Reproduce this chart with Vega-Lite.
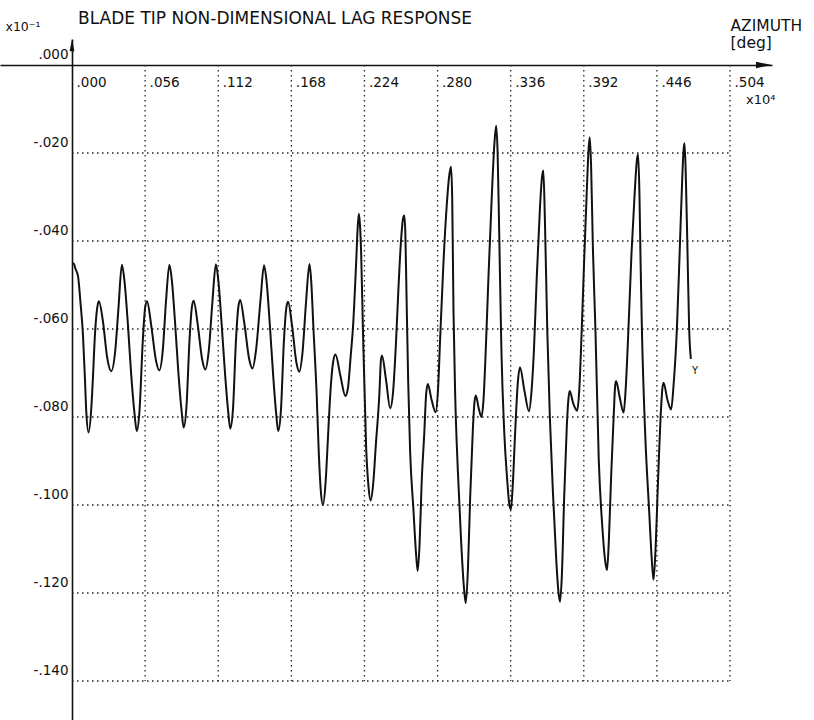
{
  "$schema": "https://vega.github.io/schema/vega-lite/v6.json",
  "width": 772,
  "height": 681,
  "autosize": {"type": "none"},
  "padding": {"left": 0, "top": 39, "right": 42, "bottom": 0},
  "background": "white",
  "title": {
    "text": "BLADE TIP NON-DIMENSIONAL LAG RESPONSE",
    "anchor": "start",
    "frame": "group",
    "dx": 78,
    "offset": -23,
    "baseline": "alphabetic",
    "font": "DejaVu Sans",
    "fontSize": 17,
    "fontWeight": "normal",
    "color": "#111111"
  },
  "datasets": {
    "vgrid": [
      {"x": 0.056}, {"x": 0.112}, {"x": 0.168}, {"x": 0.224}, {"x": 0.28},
      {"x": 0.336}, {"x": 0.392}, {"x": 0.448}, {"x": 0.504}
    ],
    "hgrid": [
      {"y": -0.02}, {"y": -0.04}, {"y": -0.06}, {"y": -0.08},
      {"y": -0.1}, {"y": -0.12}, {"y": -0.14}
    ],
    "curve": [
      {"x": 0.0000, "y": -0.0450}, {"x": 0.0015, "y": -0.0452}, {"x": 0.0025, "y": -0.0462},
      {"x": 0.0046, "y": -0.0480}, {"x": 0.0065, "y": -0.0540}, {"x": 0.0084, "y": -0.0613},
      {"x": 0.0100, "y": -0.0720}, {"x": 0.0109, "y": -0.0786}, {"x": 0.0127, "y": -0.0835},
      {"x": 0.0148, "y": -0.0779}, {"x": 0.0162, "y": -0.0700}, {"x": 0.0173, "y": -0.0628},
      {"x": 0.0193, "y": -0.0552}, {"x": 0.0206, "y": -0.0537}, {"x": 0.0237, "y": -0.0583},
      {"x": 0.0270, "y": -0.0666}, {"x": 0.0300, "y": -0.0696}, {"x": 0.0331, "y": -0.0650},
      {"x": 0.0356, "y": -0.0552}, {"x": 0.0382, "y": -0.0454},
      {"x": 0.0402, "y": -0.0491}, {"x": 0.0428, "y": -0.0589}, {"x": 0.0453, "y": -0.0702},
      {"x": 0.0479, "y": -0.0793}, {"x": 0.0496, "y": -0.0832}, {"x": 0.0517, "y": -0.0786},
      {"x": 0.0542, "y": -0.0628}, {"x": 0.0560, "y": -0.0552}, {"x": 0.0575, "y": -0.0537},
      {"x": 0.0606, "y": -0.0590}, {"x": 0.0644, "y": -0.0673}, {"x": 0.0669, "y": -0.0694},
      {"x": 0.0695, "y": -0.0650}, {"x": 0.0720, "y": -0.0537}, {"x": 0.0746, "y": -0.0454},
      {"x": 0.0765, "y": -0.0490}, {"x": 0.0790, "y": -0.0588}, {"x": 0.0815, "y": -0.0700},
      {"x": 0.0840, "y": -0.0788}, {"x": 0.0855, "y": -0.0824}, {"x": 0.0876, "y": -0.0780},
      {"x": 0.0900, "y": -0.0626}, {"x": 0.0918, "y": -0.0551}, {"x": 0.0932, "y": -0.0536},
      {"x": 0.0962, "y": -0.0588}, {"x": 0.0998, "y": -0.0671}, {"x": 0.1021, "y": -0.0692},
      {"x": 0.1048, "y": -0.0648}, {"x": 0.1076, "y": -0.0536}, {"x": 0.1102, "y": -0.0453},
      {"x": 0.1121, "y": -0.0490}, {"x": 0.1146, "y": -0.0588}, {"x": 0.1172, "y": -0.0701},
      {"x": 0.1197, "y": -0.0790}, {"x": 0.1212, "y": -0.0826}, {"x": 0.1233, "y": -0.0782},
      {"x": 0.1256, "y": -0.0625}, {"x": 0.1274, "y": -0.0550}, {"x": 0.1288, "y": -0.0534},
      {"x": 0.1320, "y": -0.0587}, {"x": 0.1358, "y": -0.0670}, {"x": 0.1382, "y": -0.0690},
      {"x": 0.1410, "y": -0.0647}, {"x": 0.1443, "y": -0.0537}, {"x": 0.1471, "y": -0.0455},
      {"x": 0.1490, "y": -0.0491}, {"x": 0.1515, "y": -0.0589}, {"x": 0.1540, "y": -0.0702},
      {"x": 0.1564, "y": -0.0793}, {"x": 0.1579, "y": -0.0832}, {"x": 0.1600, "y": -0.0786},
      {"x": 0.1623, "y": -0.0628}, {"x": 0.1641, "y": -0.0553}, {"x": 0.1655, "y": -0.0538},
      {"x": 0.1685, "y": -0.0591}, {"x": 0.1718, "y": -0.0675}, {"x": 0.1741, "y": -0.0697},
      {"x": 0.1766, "y": -0.0652}, {"x": 0.1793, "y": -0.0537}, {"x": 0.1819, "y": -0.0452},
      {"x": 0.1832, "y": -0.0490}, {"x": 0.1849, "y": -0.0597}, {"x": 0.1874, "y": -0.0749},
      {"x": 0.1890, "y": -0.0880}, {"x": 0.1905, "y": -0.0965}, {"x": 0.1922, "y": -0.1000},
      {"x": 0.1942, "y": -0.0950}, {"x": 0.1960, "y": -0.0850}, {"x": 0.1975, "y": -0.0764},
      {"x": 0.2000, "y": -0.0675}, {"x": 0.2018, "y": -0.0658}, {"x": 0.2055, "y": -0.0705},
      {"x": 0.2094, "y": -0.0752}, {"x": 0.2114, "y": -0.0733}, {"x": 0.2135, "y": -0.0660},
      {"x": 0.2152, "y": -0.0597}, {"x": 0.2177, "y": -0.0445}, {"x": 0.2188, "y": -0.0370},
      {"x": 0.2197, "y": -0.0338},
      {"x": 0.2207, "y": -0.0370}, {"x": 0.2215, "y": -0.0430}, {"x": 0.2228, "y": -0.0597},
      {"x": 0.2253, "y": -0.0870}, {"x": 0.2270, "y": -0.0955}, {"x": 0.2287, "y": -0.0990},
      {"x": 0.2306, "y": -0.0955}, {"x": 0.2328, "y": -0.0860}, {"x": 0.2354, "y": -0.0749},
      {"x": 0.2366, "y": -0.0672}, {"x": 0.2374, "y": -0.0660}, {"x": 0.2405, "y": -0.0715},
      {"x": 0.2437, "y": -0.0780}, {"x": 0.2460, "y": -0.0740}, {"x": 0.2480, "y": -0.0640},
      {"x": 0.2500, "y": -0.0510}, {"x": 0.2520, "y": -0.0400}, {"x": 0.2535, "y": -0.0350},
      {"x": 0.2545, "y": -0.0342},
      {"x": 0.2553, "y": -0.0380}, {"x": 0.2562, "y": -0.0520}, {"x": 0.2575, "y": -0.0720},
      {"x": 0.2590, "y": -0.0880}, {"x": 0.2615, "y": -0.1010}, {"x": 0.2635, "y": -0.1110},
      {"x": 0.2648, "y": -0.1150}, {"x": 0.2662, "y": -0.1090}, {"x": 0.2678, "y": -0.0950},
      {"x": 0.2698, "y": -0.0838}, {"x": 0.2712, "y": -0.0750}, {"x": 0.2725, "y": -0.0725},
      {"x": 0.2755, "y": -0.0762}, {"x": 0.2785, "y": -0.0789}, {"x": 0.2803, "y": -0.0740},
      {"x": 0.2820, "y": -0.0620}, {"x": 0.2845, "y": -0.0450}, {"x": 0.2870, "y": -0.0320},
      {"x": 0.2890, "y": -0.0250}, {"x": 0.2903, "y": -0.0231},
      {"x": 0.2912, "y": -0.0300}, {"x": 0.2922, "y": -0.0560}, {"x": 0.2935, "y": -0.0750},
      {"x": 0.2955, "y": -0.0920}, {"x": 0.2980, "y": -0.1080}, {"x": 0.3000, "y": -0.1180},
      {"x": 0.3016, "y": -0.1223}, {"x": 0.3032, "y": -0.1150}, {"x": 0.3050, "y": -0.0980},
      {"x": 0.3070, "y": -0.0830}, {"x": 0.3083, "y": -0.0765}, {"x": 0.3093, "y": -0.0751},
      {"x": 0.3115, "y": -0.0780}, {"x": 0.3136, "y": -0.0800}, {"x": 0.3152, "y": -0.0760},
      {"x": 0.3169, "y": -0.0649}, {"x": 0.3190, "y": -0.0480}, {"x": 0.3215, "y": -0.0300},
      {"x": 0.3235, "y": -0.0180}, {"x": 0.3249, "y": -0.0138},
      {"x": 0.3260, "y": -0.0200}, {"x": 0.3272, "y": -0.0380}, {"x": 0.3289, "y": -0.0649},
      {"x": 0.3310, "y": -0.0830}, {"x": 0.3335, "y": -0.0950}, {"x": 0.3350, "y": -0.1000},
      {"x": 0.3362, "y": -0.1010}, {"x": 0.3375, "y": -0.0960}, {"x": 0.3395, "y": -0.0830},
      {"x": 0.3415, "y": -0.0720}, {"x": 0.3431, "y": -0.0687}, {"x": 0.3465, "y": -0.0740},
      {"x": 0.3500, "y": -0.0787}, {"x": 0.3520, "y": -0.0740}, {"x": 0.3538, "y": -0.0649},
      {"x": 0.3560, "y": -0.0480}, {"x": 0.3585, "y": -0.0320}, {"x": 0.3600, "y": -0.0255},
      {"x": 0.3610, "y": -0.0240},
      {"x": 0.3622, "y": -0.0350}, {"x": 0.3640, "y": -0.0600}, {"x": 0.3660, "y": -0.0800},
      {"x": 0.3685, "y": -0.0980}, {"x": 0.3710, "y": -0.1130}, {"x": 0.3725, "y": -0.1195},
      {"x": 0.3738, "y": -0.1220}, {"x": 0.3752, "y": -0.1160}, {"x": 0.3770, "y": -0.0980},
      {"x": 0.3790, "y": -0.0820}, {"x": 0.3802, "y": -0.0760}, {"x": 0.3812, "y": -0.0741},
      {"x": 0.3840, "y": -0.0770}, {"x": 0.3869, "y": -0.0786}, {"x": 0.3885, "y": -0.0740},
      {"x": 0.3902, "y": -0.0620}, {"x": 0.3922, "y": -0.0450}, {"x": 0.3945, "y": -0.0270},
      {"x": 0.3958, "y": -0.0185}, {"x": 0.3966, "y": -0.0164},
      {"x": 0.3976, "y": -0.0230}, {"x": 0.3990, "y": -0.0420}, {"x": 0.4009, "y": -0.0600},
      {"x": 0.4035, "y": -0.0900}, {"x": 0.4062, "y": -0.1050}, {"x": 0.4085, "y": -0.1130},
      {"x": 0.4098, "y": -0.1148}, {"x": 0.4112, "y": -0.1080}, {"x": 0.4130, "y": -0.0930},
      {"x": 0.4150, "y": -0.0790}, {"x": 0.4160, "y": -0.0730}, {"x": 0.4167, "y": -0.0718},
      {"x": 0.4195, "y": -0.0755}, {"x": 0.4225, "y": -0.0790}, {"x": 0.4240, "y": -0.0740},
      {"x": 0.4262, "y": -0.0600}, {"x": 0.4285, "y": -0.0430}, {"x": 0.4310, "y": -0.0290},
      {"x": 0.4327, "y": -0.0215}, {"x": 0.4336, "y": -0.0203},
      {"x": 0.4346, "y": -0.0290}, {"x": 0.4355, "y": -0.0450}, {"x": 0.4365, "y": -0.0600},
      {"x": 0.4391, "y": -0.0843}, {"x": 0.4420, "y": -0.1010}, {"x": 0.4442, "y": -0.1130},
      {"x": 0.4454, "y": -0.1170}, {"x": 0.4468, "y": -0.1110}, {"x": 0.4488, "y": -0.0950},
      {"x": 0.4510, "y": -0.0790}, {"x": 0.4522, "y": -0.0735}, {"x": 0.4531, "y": -0.0722},
      {"x": 0.4560, "y": -0.0760}, {"x": 0.4589, "y": -0.0783}, {"x": 0.4607, "y": -0.0730},
      {"x": 0.4633, "y": -0.0600}, {"x": 0.4655, "y": -0.0420}, {"x": 0.4675, "y": -0.0250},
      {"x": 0.4685, "y": -0.0190}, {"x": 0.4692, "y": -0.0178}, {"x": 0.4702, "y": -0.0260},
      {"x": 0.4714, "y": -0.0420}, {"x": 0.4727, "y": -0.0600}, {"x": 0.4740, "y": -0.0668}
    ]
  },
  "layer": [
    {
      "data": {"name": "vgrid"},
      "mark": {"type": "rule", "strokeDash": [1.5, 3.5], "strokeWidth": 1.3, "color": "#222222"},
      "encoding": {
        "x": {
          "field": "x", "type": "quantitative",
          "scale": {"domain": [-0.055147, 0.53615], "nice": false, "zero": false},
          "axis": {
            "orient": "top", "offset": -26,
            "values": [0, 0.056, 0.112, 0.168, 0.224, 0.28, 0.336, 0.392, 0.448, 0.504],
            "labelExpr": "abs(datum.value - 0.448) < 0.0001 ? '.446' : replace(format(datum.value, '.3f'), '0.', '.')",
            "grid": false, "ticks": false, "tickSize": 0,
            "domainColor": "#111111", "domainWidth": 1.6,
            "labelAlign": "left", "labelBaseline": "top", "labelPadding": -10, "labelOffset": 4,
            "labelFont": "DejaVu Sans", "labelFontSize": 13.5, "labelColor": "#111111",
            "title": ["AZIMUTH", "[deg]"],
            "titleX": 730, "titleY": -35, "titleAlign": "left", "titleAngle": 0,
            "titleBaseline": "alphabetic", "titleFont": "DejaVu Sans", "titleFontSize": 15.5,
            "titleFontWeight": "normal", "titleColor": "#111111"
          }
        },
        "y": {
          "datum": 0, "type": "quantitative",
          "scale": {"domain": [-0.148864, 0.005909], "nice": false, "zero": false},
          "axis": {
            "orient": "left", "offset": -72,
            "values": [0, -0.02, -0.04, -0.06, -0.08, -0.1, -0.12, -0.14],
            "labelExpr": "(datum.value < 0 ? '-' : '') + replace(format(abs(datum.value), '.3f'), '0.', '.')",
            "grid": false, "ticks": false, "tickSize": 0,
            "domainColor": "#111111", "domainWidth": 1.6,
            "labelAlign": "right", "labelBaseline": "bottom", "labelPadding": 4, "labelOffset": -3,
            "labelFont": "DejaVu Sans", "labelFontSize": 13.5, "labelColor": "#111111",
            "title": "x10⁻¹",
            "titleX": -67, "titleY": -9, "titleAlign": "left", "titleAngle": 0,
            "titleBaseline": "alphabetic", "titleFont": "DejaVu Sans", "titleFontSize": 12.5,
            "titleFontWeight": "normal", "titleColor": "#111111"
          }
        },
        "y2": {"datum": -0.14}
      }
    },
    {
      "data": {"name": "hgrid"},
      "mark": {"type": "rule", "strokeDash": [1.5, 3.5], "strokeWidth": 1.3, "color": "#222222"},
      "encoding": {
        "y": {"field": "y", "type": "quantitative"},
        "x": {"datum": 0, "type": "quantitative"},
        "x2": {"datum": 0.504}
      }
    },
    {
      "data": {"name": "curve"},
      "mark": {"type": "line", "interpolate": "monotone", "color": "#111111", "strokeWidth": 2},
      "encoding": {
        "x": {"field": "x", "type": "quantitative"},
        "y": {"field": "y", "type": "quantitative"}
      }
    },
    {
      "data": {"values": [{}]},
      "mark": {"type": "point", "shape": "M-1,-0.4L1,0L-1,0.4Z", "filled": true, "size": 256, "color": "#111111", "opacity": 1},
      "encoding": {
        "x": {"datum": 0.53, "type": "quantitative"},
        "y": {"datum": 0, "type": "quantitative"}
      }
    },
    {
      "data": {"values": [{}]},
      "mark": {"type": "point", "shape": "M-0.4,1L0,-1L0.4,1Z", "filled": true, "size": 144, "color": "#111111", "opacity": 1},
      "encoding": {
        "x": {"datum": 0, "type": "quantitative"},
        "y": {"datum": 0.0045, "type": "quantitative"}
      }
    },
    {
      "data": {"values": [{}]},
      "mark": {"type": "text", "text": "x10⁴", "align": "left", "baseline": "middle", "dx": 16, "dy": 35, "font": "DejaVu Sans", "fontSize": 13, "color": "#111111"},
      "encoding": {
        "x": {"datum": 0.504, "type": "quantitative"},
        "y": {"datum": 0, "type": "quantitative"}
      }
    },
    {
      "data": {"values": [{}]},
      "mark": {"type": "text", "text": "Y", "align": "center", "baseline": "middle", "font": "DejaVu Sans", "fontSize": 10, "color": "#111111"},
      "encoding": {
        "x": {"datum": 0.4773, "type": "quantitative"},
        "y": {"datum": -0.0695, "type": "quantitative"}
      }
    }
  ],
  "config": {"view": {"stroke": null}}
}
